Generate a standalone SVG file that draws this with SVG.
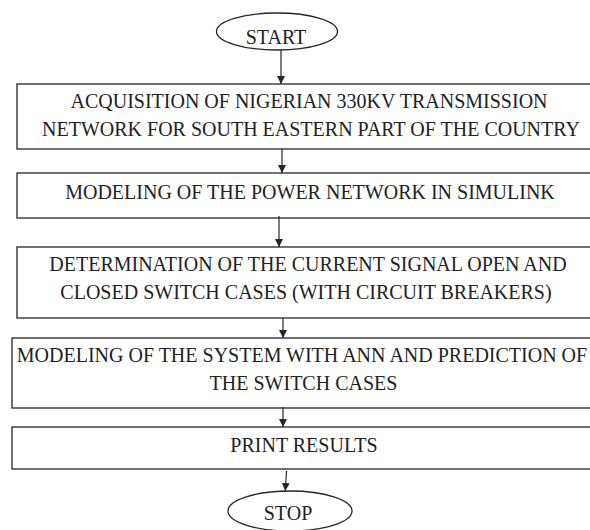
<svg xmlns="http://www.w3.org/2000/svg" width="590" height="530" viewBox="0 0 590 530">
<style>
.shape{fill:#fff;stroke:#262626;stroke-width:1.3}
.lbl{font-size:20px;fill:#222;text-anchor:middle}
.conn{stroke:#262626;stroke-width:1.2;fill:none}
</style>
<defs>
<marker id="ah" markerWidth="8" markerHeight="10" refX="8" refY="4" orient="auto" markerUnits="userSpaceOnUse">
<path d="M0,0 L8,4 L0,8 Z" fill="#262626"/>
</marker>
</defs>
<rect width="590" height="530" fill="#fff"/>
<g font-family="Liberation Serif, Times New Roman, serif">
<g id="start">
<ellipse class="shape" cx="277" cy="31.5" rx="60.5" ry="18.5"/>
<text class="lbl" x="276" y="44">START</text>
</g>
<g id="acquisition">
<rect class="shape" x="17" y="84" width="580" height="65"/>
<text class="lbl" x="309" y="108">ACQUISITION OF NIGERIAN 330KV TRANSMISSION</text>
<text class="lbl" x="311" y="136">NETWORK FOR SOUTH EASTERN PART OF THE COUNTRY</text>
</g>
<g id="modeling">
<rect class="shape" x="17" y="173" width="580" height="45"/>
<text class="lbl" x="310" y="199">MODELING OF THE POWER NETWORK IN SIMULINK</text>
</g>
<g id="determination">
<rect class="shape" x="17" y="247" width="580" height="71"/>
<text class="lbl" x="308" y="271">DETERMINATION OF THE CURRENT SIGNAL OPEN AND</text>
<text class="lbl" x="306" y="299">CLOSED SWITCH CASES (WITH CIRCUIT BREAKERS)</text>
</g>
<g id="ann">
<rect class="shape" x="12" y="338" width="590" height="70"/>
<text class="lbl" x="302" y="362">MODELING OF THE SYSTEM WITH ANN AND PREDICTION OF</text>
<text class="lbl" x="303.5" y="390">THE SWITCH CASES</text>
</g>
<g id="print">
<rect class="shape" x="12" y="427" width="590" height="42"/>
<text class="lbl" x="304" y="452">PRINT RESULTS</text>
</g>
<g id="stop">
<ellipse class="shape" cx="290" cy="511" rx="62" ry="20"/>
<text class="lbl" x="288" y="520">STOP</text>
</g>
</g>
<g id="connectors">
<line class="conn" x1="281" y1="50" x2="281" y2="84" marker-end="url(#ah)"/>
<line class="conn" x1="282" y1="149" x2="282" y2="173" marker-end="url(#ah)"/>
<line class="conn" x1="279" y1="216" x2="279" y2="247" marker-end="url(#ah)"/>
<line class="conn" x1="283" y1="318" x2="283" y2="338" marker-end="url(#ah)"/>
<line class="conn" x1="283" y1="407" x2="283" y2="427" marker-end="url(#ah)"/>
<line class="conn" x1="286.5" y1="471" x2="285.3" y2="491" marker-end="url(#ah)"/>
</g>
</svg>
